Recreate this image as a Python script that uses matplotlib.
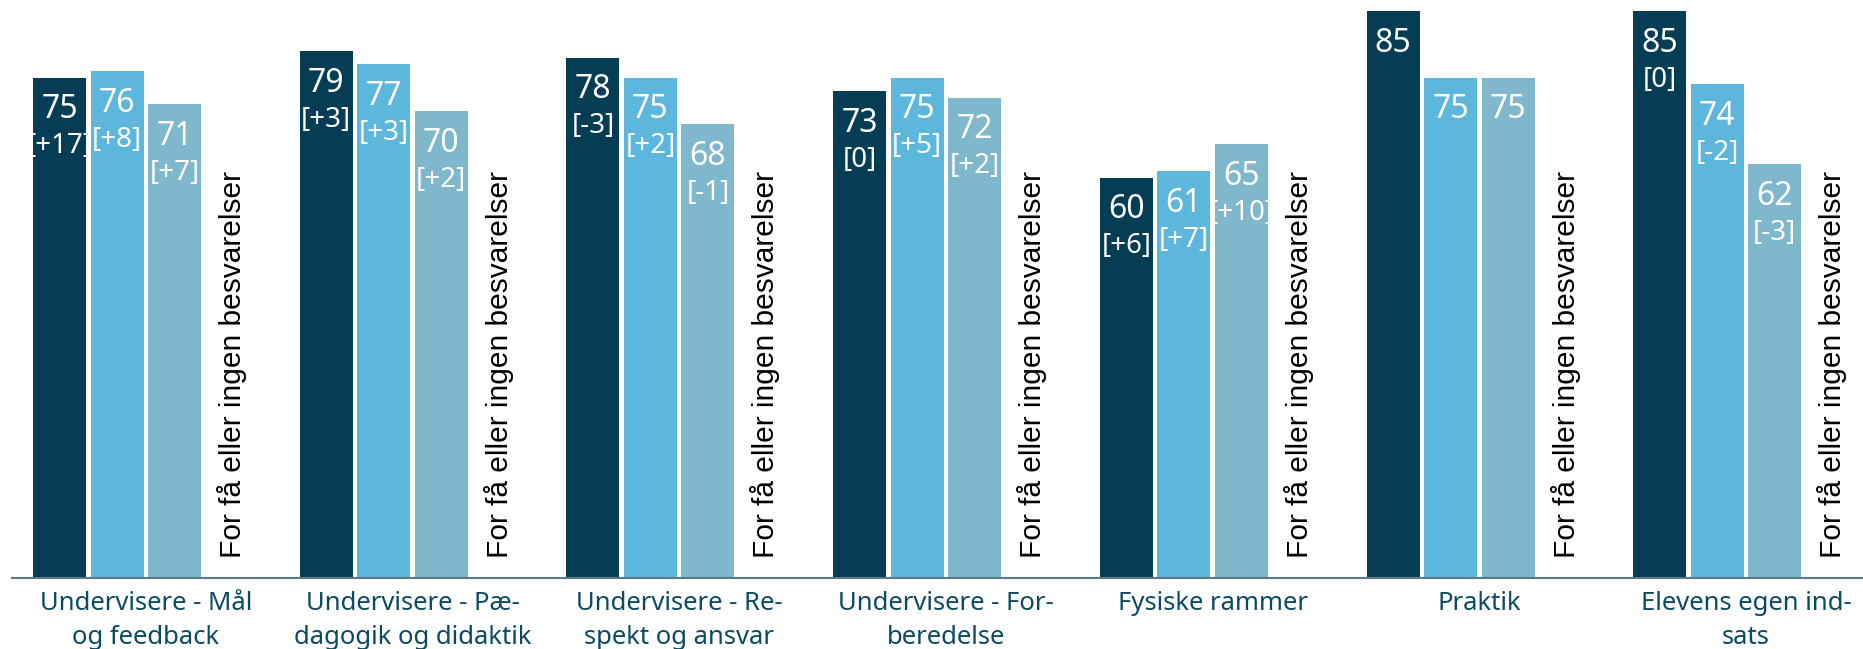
import matplotlib
matplotlib.use('Agg')
import matplotlib.pyplot as plt
import numpy as np

# %%
categories = ['Undervisere - Mål\nog feedback', 'Undervisere - Pæ-\ndagogik og didaktik',
              'Undervisere - Re-\nspekt og ansvar', 'Undervisere - For-\nberedelse',
              'Fysiske rammer', 'Praktik', 'Elevens egen ind-\nsats']
values1 = [75, 79, 78, 73, 60, 85, 85]
values2 = [76, 77, 75, 75, 61, 75, 74]
values3 = [71, 70, 68, 72, 65, 75, 62]
diff1 = ['[+17]', '[+3]', '[-3]', '[0]', '[+6]', '', '[0]']
diff2 = ['[+8]', '[+3]', '[+2]', '[+5]', '[+7]', '', '[-2]']
diff3 = ['[+7]', '[+2]', '[-1]', '[+2]', '[+10]', '', '[-3]']
fallback = 'For få eller ingen besvarelser'

colors = ['#053d54', '#5db6db', '#7fb7cc']

# %%
W, H = 1863, 649
fig = plt.figure(figsize=(W / 100, H / 100), dpi=100)
ax = fig.add_axes([12 / W, (H - 578) / H, 1 - 12 / W, (578 - 11) / H])

d = 266.7  # px per category
step = 57.5 / d
width = 53 / d
offsets = np.array([-1.5, -0.5, 0.5, 1.5]) * step
x = np.arange(len(categories))

for vals, diffs, off, col in zip([values1, values2, values3], [diff1, diff2, diff3], offsets[:3], colors):
    ax.bar(x + off, vals, width=width, color=col, zorder=2)
    for xi, v, dl in zip(x, vals, diffs):
        ax.text(xi + off, v - 4.8, str(v), ha='center', va='center', color='white',
                fontsize=23, family='Noto Sans')
        if dl:
            ax.text(xi + off, v - 10.3, dl, ha='center', va='center', color='white',
                    fontsize=20, family='Noto Sans')

for xi in x:
    ax.text(xi + offsets[3], 3, fallback, rotation=90, ha='center', va='bottom',
            color='black', fontsize=21.5, family='Liberation Sans')

ax.set_ylim(0, 85)
ax.set_xlim(-0.5015, -0.5015 + (W - 12) / d)
for s in ['top', 'left', 'right']:
    ax.spines[s].set_visible(False)
ax.spines['bottom'].set_color('#5a7a8c')
ax.spines['bottom'].set_linewidth(1.5)
ax.set_yticks([])
ax.set_xticks(x)
ax.set_xticklabels(categories, color='#0b4a62', fontsize=18.5, linespacing=1.5, va='top',
                   family='Noto Sans')
ax.tick_params(axis='x', length=0, pad=9)

plt.savefig('out.png', dpi=100)
plt.close()
